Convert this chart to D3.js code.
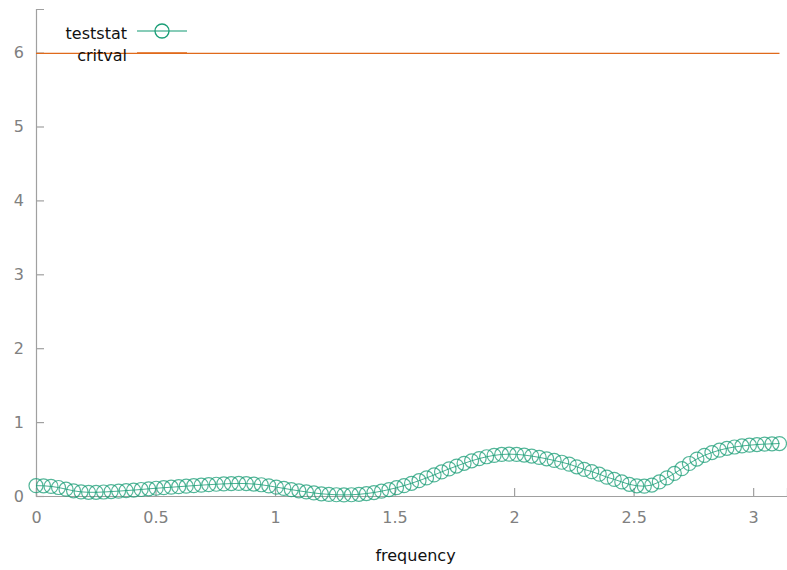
<!DOCTYPE html>
<html>
<head>
<meta charset="utf-8">
<script src="https://cdn.jsdelivr.net/npm/d3@7"></script>
<style>
  body { margin: 0; background: #fff; }
  svg { display: block; font-family: "DejaVu Sans", sans-serif; }
</style>
</head>
<body>
<div id="chart"></div>
<script>
// teststat values, one per frequency step of pi/100
var teststat = [
  0.140, 0.138, 0.130, 0.115, 0.092, 0.070, 0.056, 0.050, 0.050, 0.054,
  0.060, 0.066, 0.073, 0.080, 0.088, 0.097, 0.105, 0.112, 0.119, 0.126,
  0.133, 0.140, 0.147, 0.153, 0.159, 0.164, 0.168, 0.170, 0.168, 0.162,
  0.152, 0.137, 0.120, 0.103, 0.086, 0.070, 0.055, 0.041, 0.030, 0.022,
  0.017, 0.015, 0.017, 0.023, 0.033, 0.047, 0.065, 0.087, 0.112, 0.140,
  0.172, 0.207, 0.245, 0.285, 0.326, 0.367, 0.405, 0.442, 0.476, 0.506,
  0.531, 0.550, 0.562, 0.566, 0.563, 0.554, 0.540, 0.523, 0.503, 0.481,
  0.457, 0.431, 0.395, 0.360, 0.330, 0.295, 0.255, 0.225, 0.190, 0.158,
  0.138, 0.133, 0.148, 0.190, 0.245, 0.305, 0.370, 0.440, 0.500, 0.550,
  0.588, 0.620, 0.645, 0.663, 0.677, 0.688, 0.696, 0.702, 0.706, 0.710
];
var critval = 5.99;
var freqStep = Math.PI / 100;
var frequency = teststat.map(function(v, i){ return i * freqStep; });

var xTicks = [0, 0.5, 1, 1.5, 2, 2.5, 3];
var yTicks = [0, 1, 2, 3, 4, 5, 6];
var seriesNames = ["teststat", "critval"];
var colors = { teststat: "#1b9e77", critval: "#e06a1b" };

var width = 787, height = 570;
var margin = { top: 9, right: 0, bottom: 74, left: 36 };

var svg = d3.select("#chart").append("svg")
    .attr("width", width)
    .attr("height", height);

var x = d3.scaleLinear().domain([0, Math.PI]).range([margin.left, width - margin.right]);
var y = d3.scaleLinear().domain([0, 6.59]).range([height - margin.bottom, margin.top]);

// axes, ticks point inward like gnuplot
var xAxis = svg.append("g")
    .attr("transform", "translate(0," + y(0) + ")")
    .call(d3.axisBottom(x).tickValues(xTicks).tickSize(-8).tickPadding(16).tickFormat(d3.format("")));
var yAxis = svg.append("g")
    .attr("transform", "translate(" + x(0) + ",0)")
    .call(d3.axisLeft(y).tickValues(yTicks).tickSize(-8).tickPadding(12).tickFormat(d3.format("d")));

[xAxis, yAxis].forEach(function(g){
    g.select(".domain").attr("stroke", "#a0a0a0").attr("stroke-width", 1.2);
    g.selectAll(".tick line").attr("stroke", "#a0a0a0").attr("stroke-width", 1.2);
    g.selectAll(".tick text").attr("fill", "#808080").attr("font-size", 16)
        .attr("font-family", "DejaVu Sans, sans-serif");
});

// critval line
var line = d3.line().x(function(d){ return x(d[0]); }).y(function(d){ return y(d[1]); });
svg.append("path")
    .datum(frequency.map(function(f){ return [f, critval]; }))
    .attr("d", line)
    .attr("fill", "none")
    .attr("stroke", colors.critval)
    .attr("stroke-width", 1.3);

// teststat line + circles
var pts = frequency.map(function(f, i){ return [f, teststat[i]]; });
svg.append("path")
    .datum(pts)
    .attr("d", line)
    .attr("fill", "none")
    .attr("stroke", colors.teststat)
    .attr("stroke-opacity", 0.8)
    .attr("stroke-width", 1);

svg.append("g").selectAll("circle")
    .data(pts)
    .enter().append("circle")
    .attr("cx", function(d){ return x(d[0]); })
    .attr("cy", function(d){ return y(d[1]); })
    .attr("r", 7)
    .attr("fill", "none")
    .attr("stroke", colors.teststat)
    .attr("stroke-opacity", 0.75)
    .attr("stroke-width", 1.2);

// legend
var legend = svg.append("g");
seriesNames.forEach(function(name, i){
    var ly = 31 + i * 22;
    legend.append("text")
        .attr("x", 127).attr("y", ly + 8)
        .attr("text-anchor", "end")
        .attr("font-size", 16)
        .attr("fill", "#111")
        .text(name);
    legend.append("line")
        .attr("x1", 137).attr("x2", 187)
        .attr("y1", ly).attr("y2", ly)
        .attr("stroke", colors[name])
        .attr("stroke-opacity", name === "teststat" ? 0.7 : 1)
        .attr("stroke-width", name === "teststat" ? 1.5 : 1.3);
    if (name === "teststat") {
        legend.append("circle")
            .attr("cx", 162).attr("cy", ly).attr("r", 7)
            .attr("fill", "none")
            .attr("stroke", colors[name])
            .attr("stroke-width", 1.3);
    }
});

// x label
svg.append("text")
    .attr("x", (x(0) + width) / 2 + 4)
    .attr("y", 561)
    .attr("text-anchor", "middle")
    .attr("font-size", 16)
    .attr("fill", "#111")
    .text("frequency");
</script>
</body>
</html>
